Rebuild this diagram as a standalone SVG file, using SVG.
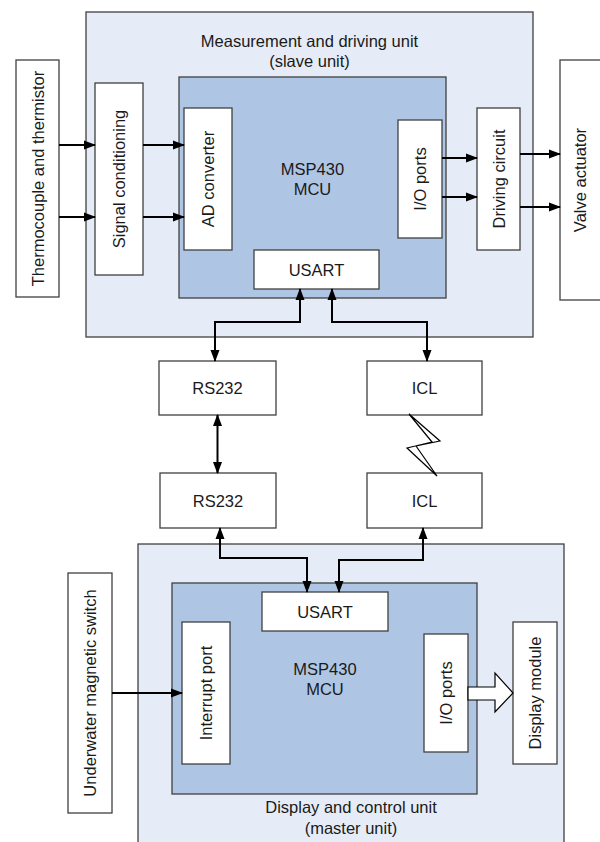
<svg xmlns="http://www.w3.org/2000/svg" width="600" height="842" viewBox="0 0 600 842">
<defs>
<style>
.cont{fill:#E6ECF7;stroke:#404040;stroke-width:1.3}
.mcu{fill:#AFC5E4;stroke:#404040;stroke-width:1.3}
.box{fill:#FFFFFF;stroke:#404040;stroke-width:1.3}
text{font-family:"Liberation Sans",Arial,sans-serif;font-size:16.5px;fill:#1a1a1a;text-anchor:middle}
.ln{fill:none;stroke:#000;stroke-width:2}
.a1{marker-end:url(#ah)}
.a2{marker-start:url(#ah);marker-end:url(#ah)}
</style>
<marker id="ah" markerUnits="userSpaceOnUse" markerWidth="12" markerHeight="10" refX="11" refY="4.5" orient="auto-start-reverse" viewBox="0 0 12 9">
<path d="M0,0 L12,4.5 L0,9 z" fill="#000"/>
</marker>
</defs>

<g id="slave-unit">
<rect class="cont" x="86" y="12" width="447" height="325"/>
<text x="309.5" y="47">Measurement and driving unit</text>
<text x="309.5" y="67">(slave unit)</text>
</g>
<g id="slave-mcu">
<rect class="mcu" x="179" y="77" width="267" height="221"/>
<text x="312.5" y="175">MSP430</text>
<text x="312.5" y="195">MCU</text>
</g>
<g id="thermocouple">
<rect class="box" x="16" y="60" width="43" height="237"/>
<text transform="rotate(-90 37.5 178.5)" x="37.5" y="184.5">Thermocouple and thermistor</text>
</g>
<g id="signal-conditioning">
<rect class="box" x="95" y="83" width="48" height="192"/>
<text transform="rotate(-90 119 179)" x="119" y="185">Signal conditioning</text>
</g>
<g id="ad-converter">
<rect class="box" x="184" y="108" width="48" height="142"/>
<text transform="rotate(-90 208 179)" x="208" y="185">AD converter</text>
</g>
<g id="io-ports-slave">
<rect class="box" x="398" y="120" width="44" height="118"/>
<text transform="rotate(-90 420 179)" x="420" y="185">I/O ports</text>
</g>
<g id="driving-circuit">
<rect class="box" x="477" y="108" width="43" height="142"/>
<text transform="rotate(-90 498.5 179)" x="498.5" y="185">Driving circuit</text>
</g>
<g id="valve-actuator">
<rect class="box" x="560" y="60" width="50" height="240"/>
<text transform="rotate(-90 580 180)" x="580" y="186">Valve actuator</text>
</g>
<g id="usart-slave">
<rect class="box" x="254" y="250" width="125" height="39"/>
<text x="316.5" y="275.5">USART</text>
</g>
<g id="rs232-top">
<rect class="box" x="159" y="361" width="117" height="54"/>
<text x="217.5" y="394">RS232</text>
</g>
<g id="icl-top">
<rect class="box" x="367" y="361" width="115" height="54"/>
<text x="424.5" y="394">ICL</text>
</g>
<g id="rs232-bottom">
<rect class="box" x="160" y="473" width="116" height="55"/>
<text x="218" y="506.5">RS232</text>
</g>
<g id="icl-bottom">
<rect class="box" x="367" y="473" width="115" height="55"/>
<text x="424.5" y="506.5">ICL</text>
</g>
<g id="master-unit">
<rect class="cont" x="138" y="544" width="426" height="310"/>
<text x="351" y="813">Display and control unit</text>
<text x="351" y="834">(master unit)</text>
</g>
<g id="master-mcu">
<rect class="mcu" x="172" y="583" width="305" height="211"/>
<text x="325" y="675">MSP430</text>
<text x="325" y="695">MCU</text>
</g>
<g id="usart-master">
<rect class="box" x="262" y="592" width="126" height="39"/>
<text x="325" y="617.5">USART</text>
</g>
<g id="interrupt-port">
<rect class="box" x="182" y="622" width="48" height="142"/>
<text transform="rotate(-90 206 693)" x="206" y="699">Interrupt port</text>
</g>
<g id="io-ports-master">
<rect class="box" x="424" y="634" width="44" height="118"/>
<text transform="rotate(-90 446 693)" x="446" y="699">I/O ports</text>
</g>
<g id="display-module">
<rect class="box" x="513" y="622" width="44" height="142"/>
<text transform="rotate(-90 535 693)" x="535" y="699">Display module</text>
</g>
<g id="magnetic-switch">
<rect class="box" x="68" y="573" width="44" height="240"/>
<text transform="rotate(-90 90 693)" x="90" y="699">Underwater magnetic switch</text>
</g>

<g id="connectors">
<path class="ln a1" d="M59,145 H95"/>
<path class="ln a1" d="M59,217 H95"/>
<path class="ln a1" d="M143,145 H184"/>
<path class="ln a1" d="M143,217 H184"/>
<path class="ln a1" d="M442,158 H477"/>
<path class="ln a1" d="M442,197 H477"/>
<path class="ln a1" d="M520,154 H560"/>
<path class="ln a1" d="M520,207 H560"/>
<path class="ln a2" d="M215,361 V322 H300 V289"/>
<path class="ln a2" d="M427,361 V322 H332 V289"/>
<path class="ln a2" d="M217.5,415 V473"/>
<path class="ln a2" d="M220,528 V558 H307 V592"/>
<path class="ln a2" d="M423,528 V560 H339 V592"/>
<path class="ln a1" d="M112,693 H182"/>
<polygon points="468,687 495,687 495,673 513,693 495,712 495,700 468,700" fill="#fff" stroke="#000" stroke-width="1.2"/>
<polygon points="409,414 440,441 416,446 437,476 407,448 432,442" fill="#fff" stroke="#000" stroke-width="1.2" stroke-linejoin="miter"/>
</g>
</svg>
